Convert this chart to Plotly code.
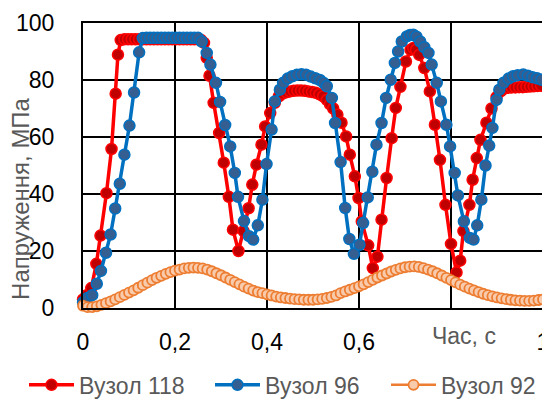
import plotly.graph_objects as go

# ---- data ----
red_t = [0.000, 0.008, 0.018, 0.029, 0.038, 0.051, 0.062, 0.071, 0.076, 0.082,
         0.090, 0.098, 0.106, 0.114, 0.122, 0.130, 0.138, 0.146, 0.154, 0.162,
         0.170, 0.178, 0.186, 0.194, 0.202, 0.210, 0.218, 0.226, 0.234, 0.242,
         0.250, 0.257, 0.263, 0.269, 0.275, 0.284, 0.296, 0.306, 0.317, 0.326,
         0.338, 0.349, 0.360, 0.368, 0.377, 0.388, 0.396, 0.407, 0.417, 0.426,
         0.434, 0.442, 0.450, 0.458, 0.466, 0.474, 0.482, 0.490, 0.498, 0.506,
         0.514, 0.522, 0.530, 0.537, 0.544, 0.553, 0.562, 0.572, 0.580, 0.591,
         0.599, 0.606, 0.620, 0.630, 0.640, 0.649, 0.660, 0.671, 0.680, 0.690,
         0.702, 0.712, 0.718, 0.724, 0.731, 0.742, 0.754, 0.765, 0.776, 0.788,
         0.800, 0.812, 0.820, 0.827, 0.840, 0.847, 0.856, 0.864, 0.877, 0.888,
         0.899, 0.908, 0.916, 0.924, 0.932, 0.940, 0.948, 0.956, 0.964, 0.972,
         0.980, 0.988, 0.996]
red_y = [3.0, 4.5, 7.0, 15.5, 25.4, 40.3, 55.8, 75.2, 88.9, 94.0,
         94.3, 94.3, 94.3, 94.3, 94.3, 94.3, 94.3, 94.3, 94.3, 94.3,
         94.3, 94.3, 94.3, 94.3, 94.3, 94.3, 94.3, 94.3, 94.3, 94.3,
         94.3, 94.0, 93.0, 87.8, 81.5, 72.0, 61.4, 51.0, 39.0, 27.5,
         20.0, 27.0, 35.0, 43.3, 50.3, 57.3, 63.7, 68.4, 72.0, 74.3,
         75.2, 75.7, 76.0, 76.2, 76.3, 76.3, 76.2, 76.0, 75.8, 75.5,
         75.0, 74.3, 73.0, 71.5, 70.0, 67.8, 65.0, 60.2, 53.8, 46.2,
         38.6, 30.4, 22.0, 14.0, 18.0, 31.0, 45.6, 59.6, 70.2, 77.6,
         86.5, 90.6, 91.2, 90.6, 88.8, 84.2, 76.0, 64.3, 52.0, 36.2,
         22.5, 12.5, 16.6, 27.0, 36.2, 45.0, 52.6, 59.0, 65.0, 70.0,
         74.0, 76.0, 77.0, 77.3, 77.4, 77.4, 77.5, 77.5, 77.6, 77.7,
         77.8, 77.9, 78.0]

blue_t = [0.000, 0.010, 0.020, 0.030, 0.039, 0.050, 0.060, 0.070, 0.080, 0.090,
          0.101, 0.111, 0.122, 0.130, 0.138, 0.146, 0.154, 0.162, 0.170, 0.178,
          0.186, 0.194, 0.202, 0.210, 0.218, 0.226, 0.234, 0.242, 0.250, 0.258,
          0.269, 0.277, 0.289, 0.298, 0.309, 0.320, 0.330, 0.337, 0.350, 0.361,
          0.370, 0.380, 0.390, 0.399, 0.410, 0.417, 0.428, 0.435, 0.445, 0.455,
          0.465, 0.475, 0.485, 0.495, 0.505, 0.515, 0.523, 0.530, 0.541, 0.548,
          0.560, 0.570, 0.579, 0.589, 0.601, 0.609, 0.619, 0.629, 0.638, 0.649,
          0.659, 0.669, 0.678, 0.685, 0.693, 0.704, 0.711, 0.718, 0.725, 0.733,
          0.742, 0.751, 0.758, 0.769, 0.778, 0.790, 0.798, 0.808, 0.815, 0.828,
          0.841, 0.849, 0.857, 0.866, 0.875, 0.883, 0.890, 0.899, 0.905, 0.914,
          0.925, 0.935, 0.945, 0.957, 0.967, 0.977, 0.987, 0.997]
blue_y = [2.0, 3.5, 4.5, 8.5, 13.0, 19.4, 25.8, 34.9, 43.6, 53.8,
          64.0, 75.6, 89.7, 94.7, 94.8, 94.8, 94.8, 94.8, 94.8, 94.8,
          94.8, 94.8, 94.8, 94.8, 94.8, 94.8, 94.8, 94.8, 94.8, 93.5,
          89.5, 85.4, 79.0, 72.3, 64.2, 56.7, 47.4, 39.0, 30.5, 25.2,
          24.0, 29.0, 38.0, 50.5, 62.6, 72.5, 76.6, 79.0, 80.5, 81.3,
          81.8, 82.0, 81.8, 81.2, 80.6, 80.0, 79.0, 77.8, 73.7, 64.9,
          51.2, 35.1, 24.2, 19.0, 22.2, 29.8, 38.8, 47.8, 57.3, 64.9,
          73.7, 80.1, 86.0, 90.0, 93.5, 95.3, 95.8, 95.9, 95.2, 93.5,
          91.5, 89.5, 85.4, 79.0, 72.5, 64.3, 56.7, 47.4, 39.5, 30.4,
          24.6, 24.0, 29.0, 38.0, 50.0, 57.0, 63.2, 73.0, 76.6, 79.0,
          80.5, 81.3, 81.7, 81.9, 81.5, 81.0, 80.6, 80.1]

orange_t = [i / 100 for i in range(101)]
orange_y = [0.8, 0.3, 0.3, 0.6, 1.1, 1.7, 2.3, 3.0, 3.8, 4.6,
            5.4, 6.2, 7.1, 8.0, 8.9, 9.8, 10.6, 11.3, 12.0, 12.6,
            13.1, 13.5, 13.9, 14.1, 14.2, 14.1, 13.9, 13.5, 12.9, 12.2,
            11.5, 10.7, 9.9, 9.1, 8.3, 7.5, 6.8, 6.1, 5.6, 5.2,
            4.8, 4.4, 4.0, 3.7, 3.5, 3.3, 3.1, 3.0, 2.9, 2.9,
            2.9, 3.0, 3.2, 3.5, 3.9, 4.4, 5.2, 5.8, 6.4, 7.0,
            7.6, 8.3, 9.1, 9.9, 10.7, 11.4, 12.1, 12.8, 13.4, 13.9,
            14.3, 14.5, 14.6, 14.4, 14.0, 13.5, 12.9, 12.2, 11.4, 10.6,
            9.8, 9.0, 8.2, 7.5, 6.8, 6.2, 5.6, 5.0, 4.5, 4.1,
            3.7, 3.4, 3.1, 2.9, 2.7, 2.6, 2.5, 2.5, 2.6, 2.8,
            3.0]

x_tickvals = [0, 0.2, 0.4, 0.6, 0.8, 1.0]
x_ticktext = ["0", "0,2", "0,4", "0,6", "", "1"]
y_tickvals = [0, 20, 40, 60, 80, 100]

FONT = "Liberation Sans"
GRAY = "#595959"
W, H = 542, 391   # page adds an 8px body margin

fig = go.Figure()
fig.add_trace(go.Scatter(
    x=red_t, y=red_y, name="Вузол 118", mode="lines+markers", legend="legend",
    line=dict(color="#FF0000", width=3.5),
    marker=dict(size=11, color="#C00000", line=dict(color="#FF0000", width=1.5)),
    cliponaxis=False))
fig.add_trace(go.Scatter(
    x=blue_t, y=blue_y, name="Вузол 96", mode="lines+markers", legend="legend2",
    line=dict(color="#0070C0", width=3.5),
    marker=dict(size=11, color="#355E91", line=dict(color="#0070C0", width=1.5)),
    cliponaxis=False))
fig.add_trace(go.Scatter(
    x=orange_t, y=orange_y, name="Вузол 92", mode="lines+markers", legend="legend3",
    line=dict(color="#ED7D31", width=2.5),
    marker=dict(size=10, color="#F8CBAD", line=dict(color="#ED7D31", width=1.8)),
    cliponaxis=False))


def leg(xpx):
    return dict(orientation="h", xref="container", yref="container",
                x=xpx / W, y=0.036, xanchor="left", yanchor="middle",
                itemwidth=45,
                font=dict(family=FONT, size=23, color=GRAY),
                bgcolor="rgba(0,0,0,0)")


fig.update_layout(
    width=W, height=H,
    margin=dict(l=75, r=7, t=15, b=91, autoexpand=False),
    paper_bgcolor="white", plot_bgcolor="white",
    font=dict(family=FONT, size=23, color="#000000"),
    showlegend=True,
    legend=leg(16), legend2=leg(202), legend3=leg(378),
)
fig.update_xaxes(
    range=[0, 1], tickvals=x_tickvals, ticktext=x_ticktext, automargin=False,
    showgrid=True, gridcolor="#000000", gridwidth=2,
    showline=True, linecolor="#000000", linewidth=2, mirror=True,
    zeroline=False, ticks="outside", ticklen=12, tickcolor="rgba(0,0,0,0)",
    tickfont=dict(family=FONT, size=23, color="#000000"))
fig.update_yaxes(
    range=[0, 100], tickvals=y_tickvals, automargin=False,
    showgrid=True, gridcolor="#000000", gridwidth=2,
    showline=True, linecolor="#000000", linewidth=2, mirror=True,
    zeroline=False, ticks="outside", ticklen=22, tickcolor="rgba(0,0,0,0)",
    tickfont=dict(family=FONT, size=23, color="#000000"))

fig.add_annotation(text="Напруження, МПа", textangle=-90,
                   xref="paper", yref="paper", x=-0.135, y=0.386,
                   xanchor="center", yanchor="middle", showarrow=False,
                   font=dict(family=FONT, size=24, color=GRAY))
fig.add_annotation(text="Час, с", xref="paper", yref="paper",
                   x=0.828, y=-0.098, xanchor="center", yanchor="middle",
                   showarrow=False, bgcolor="white",
                   font=dict(family=FONT, size=23, color=GRAY))

fig.write_html("out.html")
